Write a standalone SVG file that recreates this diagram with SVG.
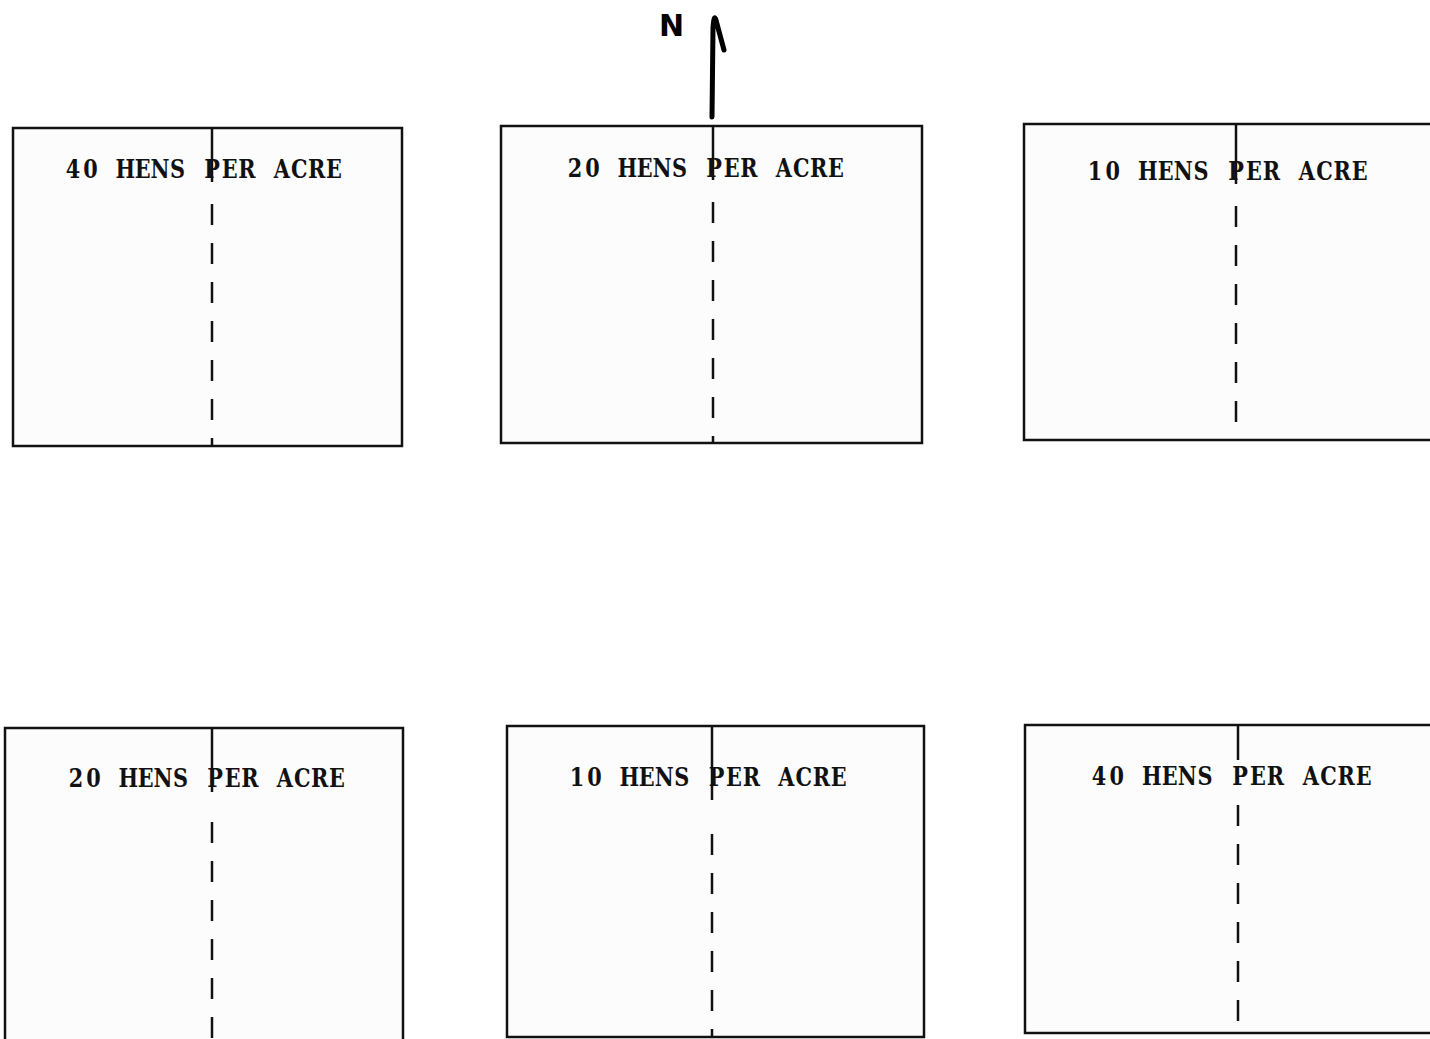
<svg xmlns="http://www.w3.org/2000/svg" width="1430" height="1039" viewBox="0 0 1430 1039">
<style>
.plot{fill:#fcfcfc;stroke:#111;stroke-width:2.5}
.div{stroke:#111;stroke-width:2.5;fill:none}
.dash{stroke:#111;stroke-width:2.5;fill:none;stroke-dasharray:21 18}
.lbl{font-family:"DejaVu Serif","Liberation Serif",serif;font-weight:bold;font-size:26px;fill:#111;text-anchor:middle}
.n{font-family:"DejaVu Sans",sans-serif;font-weight:bold;font-size:30px;fill:#000}
</style>
<rect width="1430" height="1039" fill="#fff"/>
<g id="north">
<text class="n" x="659" y="36">N</text>
<path d="M712 117 L713 28 Q714 10 717 24 L724 50" fill="none" stroke="#000" stroke-width="5" stroke-linecap="round" stroke-linejoin="round"/>
</g>
<g id="plot-1">
<rect class="plot" x="13" y="128" width="389" height="318"/>
<line class="div" x1="212" y1="128" x2="212" y2="182"/>
<line class="dash" x1="212" y1="204" x2="212" y2="446"/>
<text class="lbl" transform="translate(73,178) scale(0.8,1)" x="0 21.75 43.5 65.25 87 108.75 130.5 152.25 174 195.75 217.5 239.25 261 282.75 304.5 326.25" y="0">40 HENS PER ACRE</text>
</g>
<g id="plot-2">
<rect class="plot" x="501" y="126" width="421" height="317"/>
<line class="div" x1="713" y1="126" x2="713" y2="180"/>
<line class="dash" x1="713" y1="202" x2="713" y2="443"/>
<text class="lbl" transform="translate(575,177) scale(0.8,1)" x="0 21.75 43.5 65.25 87 108.75 130.5 152.25 174 195.75 217.5 239.25 261 282.75 304.5 326.25" y="0">20 HENS PER ACRE</text>
</g>
<g id="plot-3">
<rect class="plot" x="1024" y="124" width="420" height="316"/>
<line class="div" x1="1236" y1="124" x2="1236" y2="184"/>
<line class="dash" x1="1236" y1="206" x2="1236" y2="440"/>
<text class="lbl" transform="translate(1095,180) scale(0.8,1)" x="0 22.06 44.13 66.19 88.25 110.31 132.38 154.44 176.5 198.56 220.63 242.69 264.75 286.81 308.88 330.94" y="0">10 HENS PER ACRE</text>
</g>
<g id="plot-4">
<rect class="plot" x="5" y="728" width="398" height="330"/>
<line class="div" x1="212" y1="728" x2="212" y2="792"/>
<line class="dash" x1="212" y1="822" x2="212" y2="1039"/>
<text class="lbl" transform="translate(76,787) scale(0.8,1)" x="0 21.75 43.5 65.25 87 108.75 130.5 152.25 174 195.75 217.5 239.25 261 282.75 304.5 326.25" y="0">20 HENS PER ACRE</text>
</g>
<g id="plot-5">
<rect class="plot" x="507" y="726" width="417" height="311"/>
<line class="div" x1="712" y1="726" x2="712" y2="800"/>
<line class="dash" x1="712" y1="834" x2="712" y2="1037"/>
<text class="lbl" transform="translate(577,786) scale(0.8,1)" x="0 21.81 43.63 65.44 87.25 109.06 130.88 152.69 174.5 196.31 218.13 239.94 261.75 283.56 305.38 327.19" y="0">10 HENS PER ACRE</text>
</g>
<g id="plot-6">
<rect class="plot" x="1025" y="725" width="420" height="308"/>
<line class="div" x1="1238" y1="725" x2="1238" y2="760"/>
<line class="dash" x1="1238" y1="805" x2="1238" y2="1033"/>
<text class="lbl" transform="translate(1099,785) scale(0.8,1)" x="0 22.06 44.13 66.19 88.25 110.31 132.38 154.44 176.5 198.56 220.63 242.69 264.75 286.81 308.88 330.94" y="0">40 HENS PER ACRE</text>
</g>
</svg>
